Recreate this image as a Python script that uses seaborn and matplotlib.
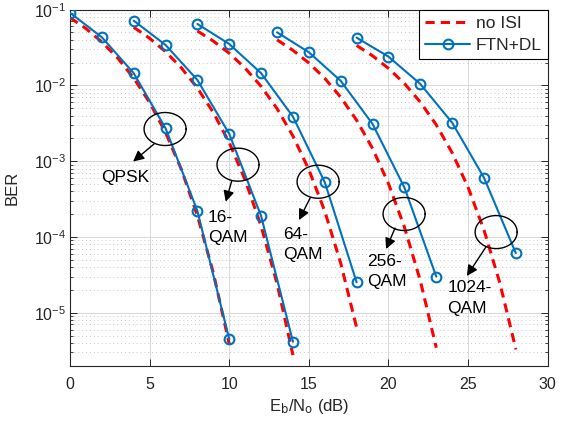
import numpy as np
import pandas as pd
import matplotlib
matplotlib.use('Agg')
import matplotlib.pyplot as plt
from matplotlib.lines import Line2D
from matplotlib.ticker import NullLocator
import seaborn as sns

# no ISI (theory) curves at 1 dB steps
noisi_x_qpsk = [0, 1, 2, 3, 4, 5, 6, 7, 8, 9, 10]
noisi_qpsk = [0.0786, 0.0563, 0.0375, 0.0229, 0.0125, 0.00595, 0.00239, 7.73e-4, 1.91e-4, 3.36e-5, 3.87e-6]
noisi_x_16 = [4, 5, 6, 7, 8, 9, 10, 11, 12, 13, 14]
noisi_16 = [0.0586, 0.0419, 0.0279, 0.0170, 0.00924, 0.00439, 0.00176, 5.64e-4, 1.39e-4, 2.43e-5, 2.76e-6]
noisi_x_64 = [8, 9, 10, 11, 12, 13, 14, 15, 16, 17, 18]
noisi_64 = [0.0523, 0.0385, 0.0266, 0.0169, 0.00972, 0.00496, 0.00215, 7.72e-4, 2.18e-4, 4.50e-5, 6.36e-6]
noisi_x_256 = [13, 14, 15, 16, 17, 18, 19, 20, 21, 22, 23]
noisi_256 = [0.0400, 0.0291, 0.0198, 0.0124, 0.00699, 0.00347, 0.00147, 5.05e-4, 1.35e-4, 2.64e-5, 3.45e-6]
noisi_x_1024 = [18, 19, 20, 21, 22, 23, 24, 25, 26, 27, 28]
noisi_1024 = [0.0337, 0.0246, 0.0168, 0.0106, 0.00603, 0.00302, 0.00129, 4.51e-4, 1.23e-4, 2.44e-5, 3.28e-6]

# FTN+DL curves
ftn_x_qpsk = [0, 2, 4, 6, 8, 10]
ftn_qpsk = [0.091, 0.0432, 0.0145, 0.00272, 2.2e-4, 4.45e-6]
ftn_x_16 = [4, 6, 8, 10, 12, 14]
ftn_16 = [0.0716, 0.0342, 0.0118, 0.00229, 1.89e-4, 4.14e-6]
ftn_x_64 = [8, 10, 12, 14, 16, 18]
ftn_64 = [0.0648, 0.0352, 0.0145, 0.00387, 5.27e-4, 2.52e-5]
ftn_x_256 = [13, 15, 17, 19, 21, 23]
ftn_256 = [0.0503, 0.0274, 0.0115, 0.0031, 4.5e-4, 3.0e-5]
ftn_x_1024 = [18, 20, 22, 24, 26, 28]
ftn_1024 = [0.0427, 0.024, 0.01045, 0.00322, 6.05e-4, 6.1e-5]

sns.set_style('ticks')
plt.rcParams['font.family'] = ['Liberation Sans', 'DejaVu Sans']
plt.rcParams['mathtext.default'] = 'regular'

blue = '#0072BD'
red = '#FF0000'
txt = '#262626'

fig = plt.figure(figsize=(5.67, 4.21), dpi=100)
ax = fig.add_axes([0.1235, 0.1314, 0.8425, 0.8456])
ax.set_yscale('log')

noisi = [(noisi_x_qpsk, noisi_qpsk), (noisi_x_16, noisi_16), (noisi_x_64, noisi_64),
         (noisi_x_256, noisi_256), (noisi_x_1024, noisi_1024)]
ftn = [(ftn_x_qpsk, ftn_qpsk), (ftn_x_16, ftn_16), (ftn_x_64, ftn_64),
       (ftn_x_256, ftn_256), (ftn_x_1024, ftn_1024)]

for xs, ys in noisi:
    sns.lineplot(x=xs, y=ys, ax=ax, color=red, lw=2.2, linestyle=(0, (3, 2)), zorder=3)
for xs, ys in ftn:
    sns.lineplot(x=xs, y=ys, ax=ax, color=blue, lw=1.5, marker='o', markersize=7,
                 markerfacecolor='none', markeredgecolor=blue, markeredgewidth=1.5, zorder=4)

# ellipses + arrows + labels
ell_centers = [(5.97, 2.66e-3), (10.55, 9.0e-4), (15.58, 5.36e-4), (20.98, 2.01e-4), (26.76, 1.16e-4)]
arrow_tails = [(5.28, 1.69e-3), (10.16, 5.53e-4), (15.08, 3.27e-4), (20.41, 1.31e-4), (26.13, 7.43e-5)]
arrow_heads = [(3.96, 9.9e-4), (9.78, 2.92e-4), (14.38, 1.67e-4), (19.85, 6.93e-5), (24.92, 3.05e-5)]
labels = ['QPSK', '16-\nQAM', '64-\nQAM', '256-\nQAM', '1024-\nQAM']
label_pos = [(3.49, 6.15e-4), (8.67, 1.33e-4), (13.38, 7.9e-5), (18.66, 3.5e-5), (23.7, 1.56e-5)]

t = np.linspace(0, 2 * np.pi, 200)
for (cx, cy), tail, head, lab, (lx, ly) in zip(ell_centers, arrow_tails, arrow_heads, labels, label_pos):
    ax.plot(cx + 1.32 * np.cos(t), 10 ** (np.log10(cy) + 0.218 * np.sin(t)), color='k', lw=1, zorder=5)
    ax.annotate('', xy=head, xytext=tail,
                arrowprops=dict(arrowstyle='-|>', color='k', lw=1, mutation_scale=16, shrinkA=0, shrinkB=0),
                zorder=5)
    ha = 'center' if lab == 'QPSK' else 'left'
    ax.text(lx, ly, lab, ha=ha, va='center', fontsize=12.5, linespacing=1.45, color='k', zorder=6)

ax.set_xlim(0, 30)
ax.set_ylim(2.0e-6, 1e-1)
ax.set_xticks([0, 5, 10, 15, 20, 25, 30])
ax.xaxis.set_minor_locator(NullLocator())

ax.grid(which='major', color='#d8d8d8', lw=0.7, ls='-')
ax.yaxis.grid(True, which='minor', color='#c8c8c8', lw=0.7, ls=(0, (1, 3)))
ax.set_axisbelow(True)

ax.tick_params(which='both', direction='in', top=True, right=True, colors=txt, labelsize=11.5)
ax.tick_params(which='major', length=5, width=0.7)
ax.tick_params(which='minor', length=2.5, width=0.6)
ax.tick_params(axis='x', pad=8)
ax.tick_params(axis='y', pad=3)
for s in ax.spines.values():
    s.set_color(txt)
    s.set_linewidth(0.8)

ax.set_xlabel(r'E$_\mathrm{b}$/N$_\mathrm{o}$ (dB)', fontsize=12, color=txt)
ax.set_ylabel('BER', fontsize=12, color=txt)
ax.xaxis.set_label_coords(0.5, -0.088)
ax.yaxis.set_label_coords(-0.105, 0.5)

handles = [Line2D([], [], color=red, lw=2.2, linestyle=(0, (3, 2))),
           Line2D([], [], color=blue, lw=1.5, marker='o', markersize=7,
                  markerfacecolor='none', markeredgecolor=blue, markeredgewidth=1.5)]
leg = ax.legend(handles, ['no ISI', 'FTN+DL'], loc='upper right', borderaxespad=0,
                fancybox=False, edgecolor='black', framealpha=1, fontsize=12.5,
                handlelength=2.6, handletextpad=0.3, labelspacing=0.4, borderpad=0.35)
leg.get_frame().set_linewidth(0.8)

fig.savefig('out.png', dpi=100)
